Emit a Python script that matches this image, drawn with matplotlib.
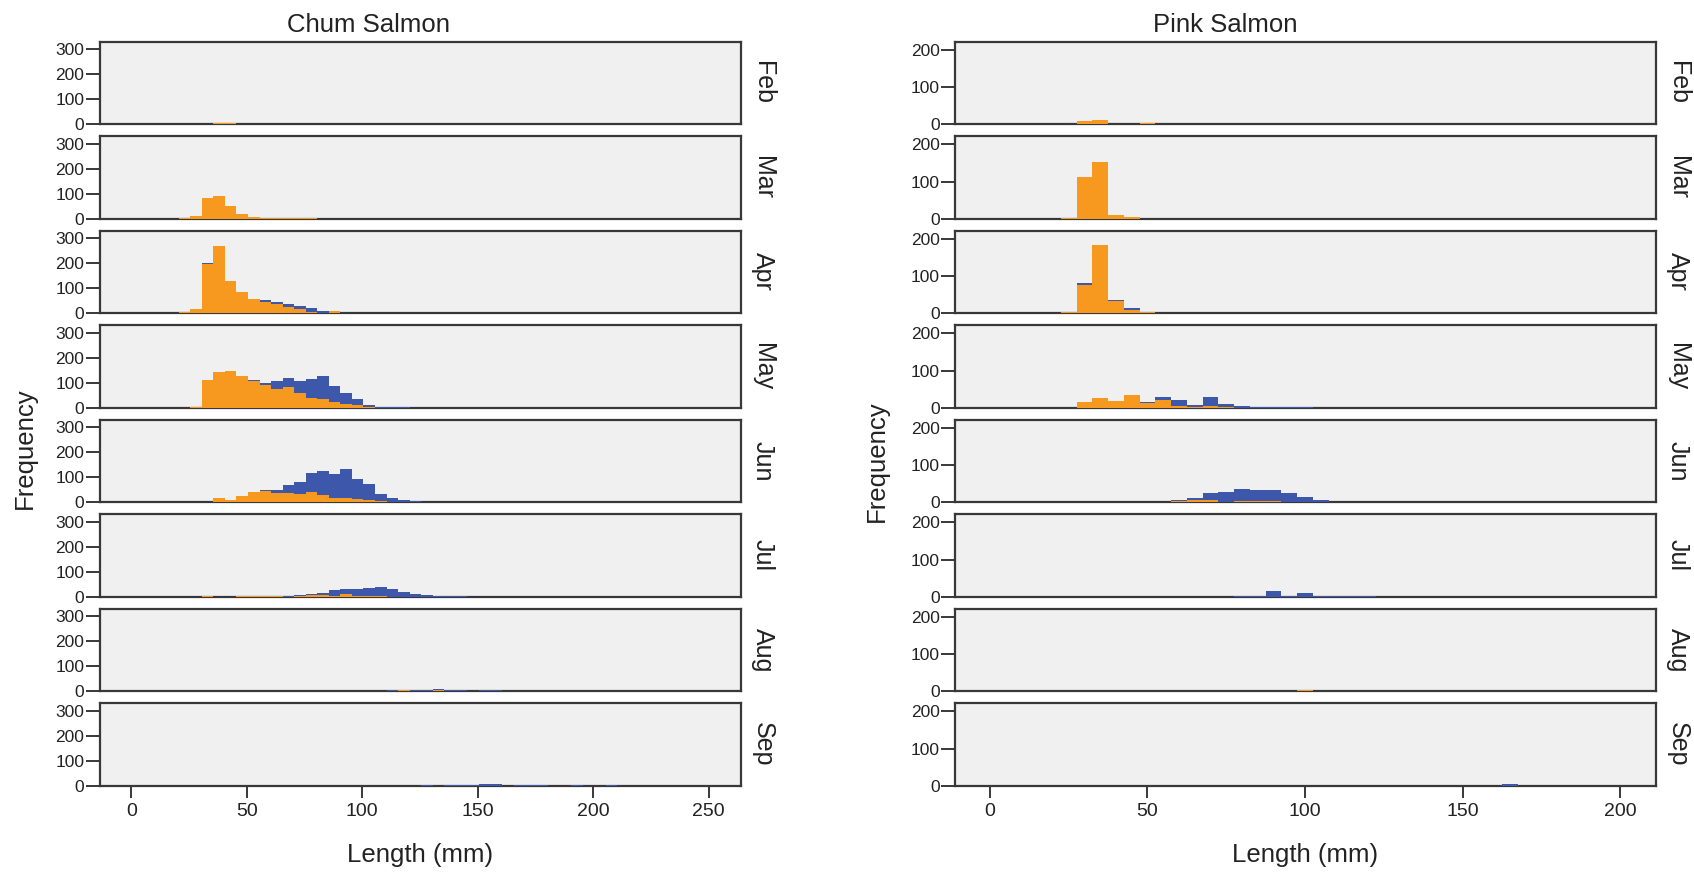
import numpy as np
import matplotlib.pyplot as plt

plt.rcParams['font.family'] = ['Liberation Sans', 'DejaVu Sans']

months = ['Feb', 'Mar', 'Apr', 'May', 'Jun', 'Jul', 'Aug', 'Sep']

# bins: 5 mm wide, first left edge below
bin_width = 5
chum_first_edge = 20.5
pink_first_edge = 22.5

# ---- Chum Salmon counts per bin (orange = lower layer, blue = upper layer) ----
chum_feb_orange = [0, 0, 0, 5, 5]
chum_feb_blue = []
chum_mar_orange = [3, 13, 83, 93, 50, 20, 9, 5, 4, 4, 3, 2]
chum_mar_blue = []
chum_apr_orange = [7, 17, 199, 269, 129, 87, 59, 45, 37, 24, 16, 7, 1, 8]
chum_apr_blue = [0, 0, 4, 0, 0, 0, 0, 7, 8, 15, 13, 13, 7, 0, 3]
chum_may_orange = [0, 5, 110, 144, 148, 128, 108, 92, 77, 85, 59, 41, 35, 25, 15, 11, 5, 1]
chum_may_blue = [0, 0, 0, 0, 0, 0, 4, 7, 31, 34, 48, 74, 93, 63, 44, 24, 7, 4, 4, 4]
chum_jun_orange = [0, 0, 1, 17, 11, 24, 40, 44, 39, 37, 32, 40, 29, 19, 16, 12, 8, 5, 2, 0, 0, 3, 0, 3]
chum_jun_blue = [0, 0, 0, 0, 0, 0, 3, 7, 12, 31, 49, 77, 96, 96, 116, 83, 64, 30, 14, 8, 4]
chum_jul_orange = [0, 0, 3, 0, 0, 4, 5, 5, 4, 1, 4, 8, 9, 4, 11, 4, 3, 3, 1]
chum_jul_blue = [0, 0, 0, 0, 0, 0, 0, 0, 0, 2, 3, 2, 8, 23, 22, 27, 33, 36, 30, 20, 12, 7, 3, 2, 2]
chum_aug_orange = [0, 0, 0, 0, 0, 0, 0, 0, 0, 0, 0, 0, 0, 0, 0, 0, 0, 0, 0, 5, 0, 0, 5]
chum_aug_blue = [0, 0, 0, 0, 0, 0, 0, 0, 0, 0, 0, 0, 0, 0, 0, 0, 0, 0, 4, 0, 5, 5, 3, 6, 5, 0, 5, 4]
chum_sep_orange = []
chum_sep_blue = [0, 0, 0, 0, 0, 0, 0, 0, 0, 0, 0, 0, 0, 0, 0, 0, 0, 0, 0, 0, 0, 4, 0, 4, 4, 4, 7, 6,
                 0, 4, 4, 4, 0, 0, 4, 0, 0, 4]

# ---- Pink Salmon counts per bin ----
pink_feb_orange = [0, 9, 11, 0, 0, 3]
pink_feb_blue = []
pink_mar_orange = [1, 113, 153, 9, 4]
pink_mar_blue = []
pink_apr_orange = [3, 77, 183, 33, 8, 3]
pink_apr_blue = [0, 3, 0, 3, 5]
pink_may_orange = [0, 16, 27, 19, 33, 13, 21, 5, 3, 4, 3]
pink_may_blue = [0, 0, 0, 0, 0, 3, 7, 17, 4, 24, 8, 5, 3, 3, 1, 3]
pink_jun_orange = [0, 0, 0, 0, 0, 0, 2, 3, 6, 6, 2, 3, 3, 3]
pink_jun_blue = [0, 0, 0, 0, 0, 0, 0, 3, 5, 19, 26, 33, 30, 30, 25, 14, 5, 2, 2]
pink_jul_orange = []
pink_jul_blue = [0, 0, 0, 0, 0, 0, 0, 0, 0, 0, 0, 3, 3, 15, 3, 10, 3, 3, 3, 3]
pink_aug_orange = [0, 0, 0, 0, 0, 0, 0, 0, 0, 0, 0, 0, 0, 0, 0, 3]
pink_aug_blue = []
pink_sep_orange = []
pink_sep_blue = [0] * 28 + [4]

chum_orange = [chum_feb_orange, chum_mar_orange, chum_apr_orange, chum_may_orange,
               chum_jun_orange, chum_jul_orange, chum_aug_orange, chum_sep_orange]
chum_blue = [chum_feb_blue, chum_mar_blue, chum_apr_blue, chum_may_blue,
             chum_jun_blue, chum_jul_blue, chum_aug_blue, chum_sep_blue]
pink_orange = [pink_feb_orange, pink_mar_orange, pink_apr_orange, pink_may_orange,
               pink_jun_orange, pink_jul_orange, pink_aug_orange, pink_sep_orange]
pink_blue = [pink_feb_blue, pink_mar_blue, pink_apr_blue, pink_may_blue,
             pink_jun_blue, pink_jul_blue, pink_aug_blue, pink_sep_blue]

ORANGE = '#F7991F'
BLUE = '#3D58AB'
BG = '#F0F0F0'
EDGE = '#383838'
TXT = '#222222'

W, H = 1694, 873
fig = plt.figure(figsize=(W / 100, H / 100), dpi=100)


def add_px_axes(x0, y0, w, h):
    # pixel box, y measured from the top of the figure
    return fig.add_axes([x0 / W, 1 - (y0 + h) / H, w / W, h / H])


def fig_text(x, y, s, **kw):
    fig.text(x / W, 1 - y / H, s, **kw)


def pad(vals, n):
    out = np.zeros(n)
    out[:len(vals)] = vals
    return out


def draw_column(x0, x1, first_edge, orange_list, blue_list, xlim, ymax, yticks, xticks):
    for i, m in enumerate(months):
        top = 41.5 + 94.5 * i
        ax = add_px_axes(x0, top, x1 - x0, 82.8)
        ax.set_facecolor(BG)
        n = max(len(orange_list[i]), len(blue_list[i]), 1)
        lefts = first_edge + bin_width * np.arange(n)
        a = pad(orange_list[i], n)
        b = pad(blue_list[i], n)
        ax.bar(lefts, a, width=bin_width, align='edge', color=ORANGE, linewidth=0, zorder=3)
        ax.bar(lefts, b, bottom=a, width=bin_width, align='edge', color=BLUE, linewidth=0, zorder=3)
        ax.set_xlim(*xlim)
        ax.set_ylim(0, ymax)
        ax.set_yticks(yticks)
        ax.set_yticklabels([str(t) for t in yticks], fontsize=12.5)
        for s in ax.spines.values():
            s.set_color(EDGE)
            s.set_linewidth(1.6)
        ax.tick_params(axis='y', length=10, width=1.4, color=EDGE, pad=1, labelcolor=TXT)
        ax.tick_params(axis='x', length=8.5, width=1.4, color=EDGE, pad=4, labelcolor=TXT)
        ax.set_xticks(xticks)
        if i < len(months) - 1:
            ax.tick_params(axis='x', bottom=False, labelbottom=False)
        else:
            ax.set_xticklabels([str(t) for t in xticks], fontsize=14)
        fig_text(x1 + 10, top + 41.4, m, fontsize=18, rotation=-90,
                 ha='left', va='center', color=TXT)


draw_column(99.5, 741, chum_first_edge, chum_orange, chum_blue,
            (-13.8, 264), 331, [0, 100, 200, 300], [0, 50, 100, 150, 200, 250])
draw_column(955, 1656, pink_first_edge, pink_orange, pink_blue,
            (-11.1, 211.4), 222, [0, 100, 200], [0, 50, 100, 150, 200])

fig_text(368, 31.7, 'Chum Salmon', fontsize=18.5, ha='center', va='baseline', color=TXT)
fig_text(1225, 31.7, 'Pink Salmon', fontsize=18.5, ha='center', va='baseline', color=TXT)
fig_text(420, 862, 'Length (mm)', fontsize=18.5, ha='center', va='baseline', color=TXT)
fig_text(1305, 862, 'Length (mm)', fontsize=18.5, ha='center', va='baseline', color=TXT)
fig_text(25, 448, 'Frequency', fontsize=18.5, rotation=90, ha='center', va='center', color=TXT)
fig_text(877, 461, 'Frequency', fontsize=18.5, rotation=90, ha='center', va='center', color=TXT)

fig.savefig('out.png', dpi=100)
